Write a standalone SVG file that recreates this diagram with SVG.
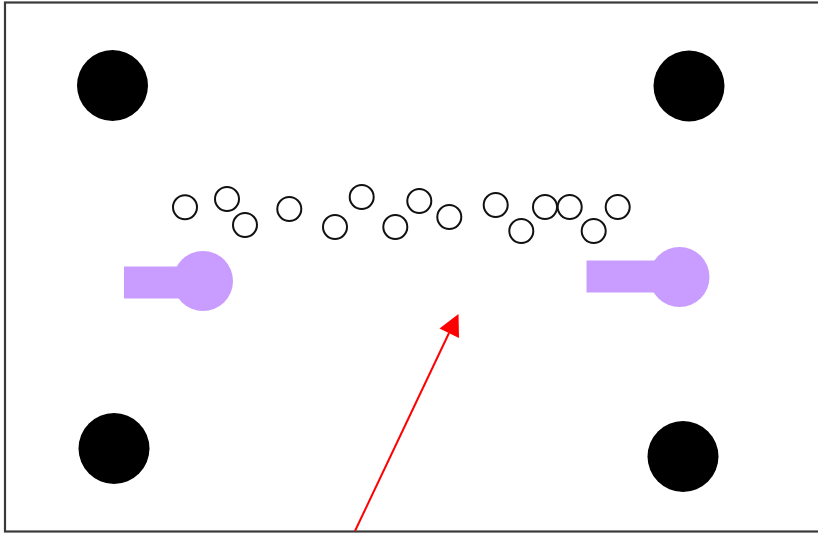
<svg xmlns="http://www.w3.org/2000/svg" width="818" height="533" viewBox="0 0 818 533">
<style>
.post{fill:#000}
.hole{fill:#fff;stroke:#111;stroke-width:2}
.pin{fill:#c99cff}
.frame{fill:#fff;stroke:#3a3a3a;stroke-width:2.2}
</style>
<rect width="818" height="533" fill="#fff"/>
<rect class="frame" x="5" y="2.500" width="830" height="529"/>
<g id="posts">
<circle id="post-1" class="post" cx="112.500" cy="85.500" r="35.500"/>
<circle id="post-2" class="post" cx="689" cy="86" r="35.500"/>
<circle id="post-3" class="post" cx="114" cy="448.500" r="35.500"/>
<circle id="post-4" class="post" cx="683" cy="456.500" r="35.500"/>
</g>
<g id="holes">
<circle class="hole" cx="185" cy="207.300" r="12"/>
<circle class="hole" cx="227" cy="199" r="12"/>
<circle class="hole" cx="245" cy="225" r="12"/>
<circle class="hole" cx="289.300" cy="209" r="12"/>
<circle class="hole" cx="335" cy="227" r="12"/>
<circle class="hole" cx="361.700" cy="197" r="12"/>
<circle class="hole" cx="395.300" cy="227" r="12"/>
<circle class="hole" cx="419.300" cy="201" r="12"/>
<circle class="hole" cx="449.300" cy="217" r="12"/>
<circle class="hole" cx="495.700" cy="205" r="12"/>
<circle class="hole" cx="521.300" cy="231" r="12"/>
<circle class="hole" cx="545" cy="207" r="12"/>
<circle class="hole" cx="569.700" cy="207" r="12"/>
<circle class="hole" cx="593.700" cy="231" r="12"/>
<circle class="hole" cx="617.700" cy="207" r="12"/>
</g>
<g id="pin-left">
<rect class="pin" x="124" y="266.500" width="70" height="32"/>
<circle class="pin" cx="203" cy="281" r="30"/>
</g>
<g id="pin-right">
<rect class="pin" x="586.500" y="260.500" width="80" height="32"/>
<circle class="pin" cx="679.500" cy="277" r="30"/>
</g>
<g id="connectors">
<line x1="355" y1="531" x2="449" y2="333" stroke="#f00" stroke-width="2"/>
<polygon points="458.500,314 439.500,328.500 459,338" fill="#f00"/>
</g>
</svg>
